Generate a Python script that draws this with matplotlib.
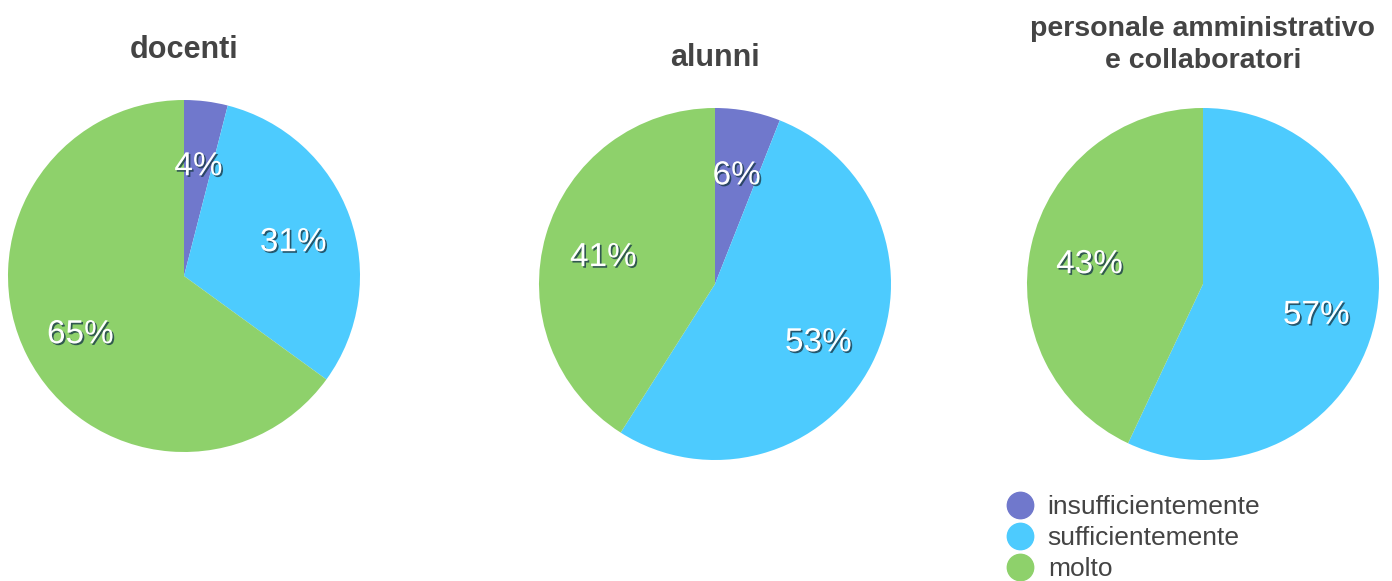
import matplotlib
matplotlib.use("Agg")
import matplotlib.pyplot as plt
import matplotlib.patheffects as pe
import matplotlib.transforms as mtransforms
from matplotlib.lines import Line2D

plt.rcParams['font.family'] = ['Liberation Sans', 'DejaVu Sans']

categories = ["insufficientemente", "sufficientemente", "molto"]
colors = ["#7078CC", "#4DCBFE", "#8ED16B"]
titles = ["docenti", "alunni", "personale amministrativo\ne collaboratori"]
docenti = [4, 31, 65]
alunni = [6, 53, 41]
personale = [0, 57, 43]
series = [docenti, alunni, personale]

W, H = 1392, 581
fig = plt.figure(figsize=(W / 100, H / 100), dpi=100)

centers = [(184, 276), (715, 284), (1203, 284)]
R = 176
title_y = [50, 58, 45]
title_fs = [22, 22, 20.5]

shadow = [pe.SimplePatchShadow(offset=(1.2, -1.2), shadow_rgbFace='#1a3a4a', alpha=0.8), pe.Normal()]

for (cx, cy), vals, title, ty, tfs in zip(centers, series, titles, title_y, title_fs):
    ax = fig.add_axes([(cx - R) / W, 1 - (cy + R) / H, 2 * R / W, 2 * R / H])
    wedges, texts, autotexts = ax.pie(
        vals, colors=colors, startangle=90, counterclock=False, radius=1,
        autopct=lambda p: f"{p:.0f}%" if p > 0.5 else "", pctdistance=0.66,
        wedgeprops=dict(linewidth=0))
    off = mtransforms.ScaledTranslation(0, -6 / 100, fig.dpi_scale_trans)
    for t in autotexts:
        t.set_color('white')
        t.set_fontsize(24)
        t.set_path_effects(shadow)
        t.set_transform(ax.transData + off)
    ax.set_xlim(-1, 1)
    ax.set_ylim(-1, 1)
    ax.set_aspect('equal')
    ax.axis('off')
    fig.text(cx / W, 1 - ty / H, title, ha='center', va='center', fontsize=tfs,
             fontweight='bold', color='#444444', linespacing=1.33)

handles = [Line2D([0], [0], marker='o', linestyle='none', markersize=19,
                  markerfacecolor=c, markeredgecolor=c) for c in colors]
fig.legend(handles, categories, loc='upper left', bbox_to_anchor=(991 / W, 1 - 482 / H),
           frameon=False, fontsize=19, labelcolor='#444444', handletextpad=0.45,
           labelspacing=0.27, borderpad=0, handlelength=1.2)

fig.savefig("out.png", dpi=100)
